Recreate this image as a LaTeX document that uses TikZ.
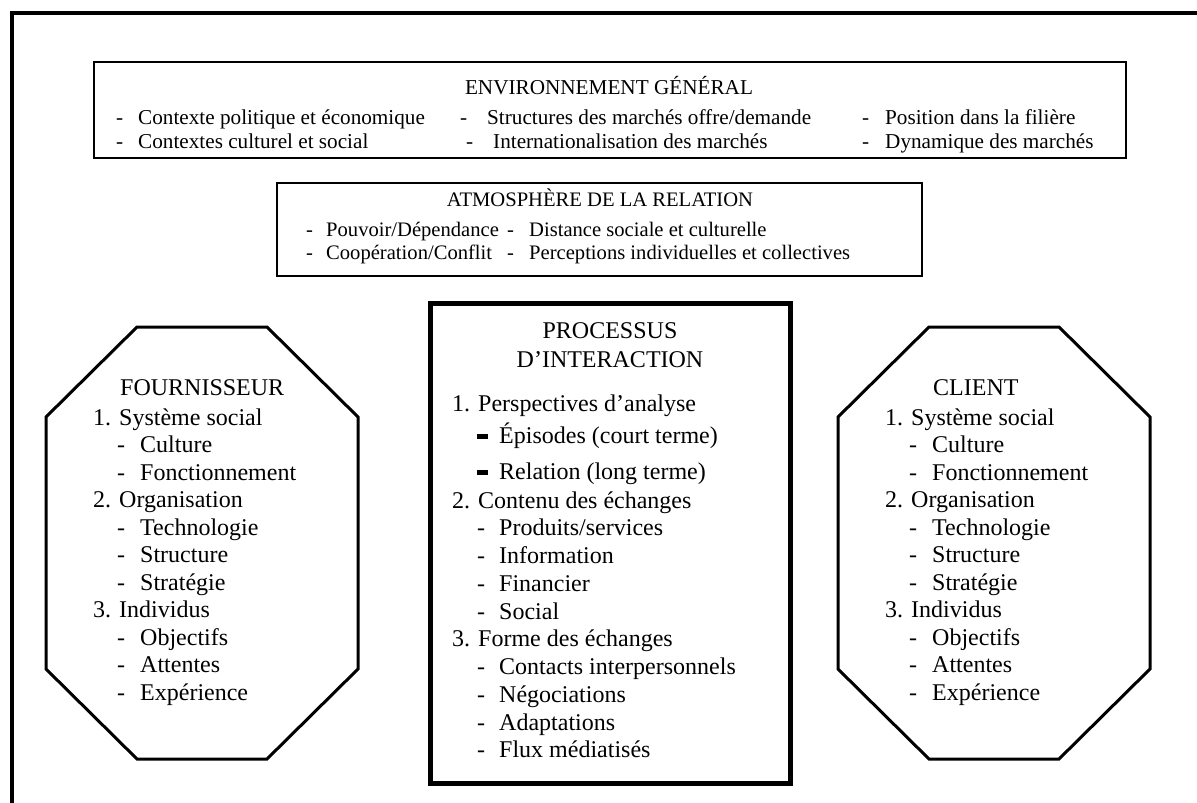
\documentclass[tikz,border=0pt]{standalone}
\usepackage{fontspec}
\setmainfont{Liberation Serif}
\begin{document}
\begin{tikzpicture}[x=1pt,y=-1pt,
  etxt/.style={anchor=base west,inner sep=0pt,font=\fontsize{21.2}{24}\selectfont},
  atxt/.style={anchor=base west,inner sep=0pt,font=\fontsize{20.6}{24}\selectfont},
  txt/.style={anchor=base west,inner sep=0pt,font=\fontsize{24}{28}\selectfont},
  ctxt/.style={anchor=base,inner sep=0pt,font=\fontsize{24}{28}\selectfont},
  thinbox/.style={draw,line width=2pt},
  octo/.style={draw,line width=3pt,line join=miter},
  bigbox/.style={draw,line width=5pt},
  bdash/.style={anchor=base west,inner sep=0pt}]
\useasboundingbox (0,0) rectangle (1197,803);
% outer frame
\draw[line width=4pt,line join=miter] (12,803) -- (12,13) -- (1197,13);
% environnement
\draw[thinbox] (94,62) rectangle (1126,158);
\node[etxt,anchor=base] (envt) at (609,94) {ENVIRONNEMENT GÉNÉRAL};
\node[etxt] (e1d) at (116,124) {-}; \node[etxt] (e1) at (138,124) {Contexte politique et économique};
\node[etxt] (e2d) at (116,148) {-}; \node[etxt] (e2) at (138,148) {Contextes culturel et social};
\node[etxt] (e3d) at (460,124) {-}; \node[etxt] (e3) at (487,124) {Structures des marchés offre/demande};
\node[etxt] (e4d) at (466,148) {-}; \node[etxt] (e4) at (493,148) {Internationalisation des marchés};
\node[etxt] (e5d) at (862,124) {-}; \node[etxt] (e5) at (885,124) {Position dans la filière};
\node[etxt] (e6d) at (862,148) {-}; \node[etxt] (e6) at (885,148) {Dynamique des marchés};
% atmosphere
\draw[thinbox] (277,183) rectangle (922,276);
\node[atxt,anchor=base] (atmt) at (600,206) {ATMOSPHÈRE DE LA RELATION};
\node[atxt] (a1d) at (306,236) {-}; \node[atxt] (a1) at (326,236) {Pouvoir/Dépendance};
\node[atxt] (a2d) at (306,259) {-}; \node[atxt] (a2) at (326,259) {Coopération/Conflit};
\node[atxt] (a3d) at (507,236) {-}; \node[atxt] (a3) at (529,236) {Distance sociale et culturelle};
\node[atxt] (a4d) at (507,259) {-}; \node[atxt] (a4) at (529,259) {Perceptions individuelles et collectives};
% left octagon
\draw[octo] (137,327) -- (267,327) -- (358,417) -- (358,669) -- (267,759) -- (137,759) -- (46,669) -- (46,417) -- cycle;
% right octagon
\draw[octo] (929,327) -- (1059,327) -- (1150,417) -- (1150,669) -- (1059,759) -- (929,759) -- (838,669) -- (838,417) -- cycle;
% central box
\draw[bigbox] (430,303) rectangle (790,783);
% octagon texts
\node[txt] (ft) at (120,395) {FOURNISSEUR};
\node[txt] (ct) at (933,395) {CLIENT};
\foreach \ox/\p in {0/f,792/c}{
  \node[txt] (\p1) at (93+\ox,425) {1. Système social};
  \node[txt] at (117+\ox,452.5) {-}; \node[txt] (\p11) at (140+\ox,452.5) {Culture};
  \node[txt] at (117+\ox,480) {-}; \node[txt] (\p12) at (140+\ox,480) {Fonctionnement};
  \node[txt] (\p2) at (93+\ox,507.5) {2. Organisation};
  \node[txt] at (117+\ox,535) {-}; \node[txt] (\p21) at (140+\ox,535) {Technologie};
  \node[txt] at (117+\ox,562.5) {-}; \node[txt] (\p22) at (140+\ox,562.5) {Structure};
  \node[txt] at (117+\ox,590) {-}; \node[txt] (\p23) at (140+\ox,590) {Stratégie};
  \node[txt] (\p3) at (93+\ox,617.5) {3. Individus};
  \node[txt] at (117+\ox,645) {-}; \node[txt] (\p31) at (140+\ox,645) {Objectifs};
  \node[txt] at (117+\ox,672.5) {-}; \node[txt] (\p32) at (140+\ox,672.5) {Attentes};
  \node[txt] at (117+\ox,700) {-}; \node[txt] (\p33) at (140+\ox,700) {Expérience};
}
% processus
\node[ctxt] (pt1) at (610,338) {PROCESSUS};
\node[ctxt] (pt2) at (610,367) {D’INTERACTION};
\node[txt] (p1) at (452,411) {1. Perspectives d’analyse};
\node[bdash] (p11d) at (477,443) {\rule[4.5pt]{11pt}{4.5pt}}; \node[txt] (p11) at (499,443) {Épisodes (court terme)};
\node[bdash] (p12d) at (477,479) {\rule[4.5pt]{11pt}{4.5pt}}; \node[txt] (p12) at (499,479) {Relation (long terme)};
\node[txt] (p2) at (452,508) {2. Contenu des échanges};
\node[txt] at (477,535.75) {-}; \node[txt] (p21) at (499,535.75) {Produits/services};
\node[txt] at (477,563.5) {-}; \node[txt] (p22) at (499,563.5) {Information};
\node[txt] at (477,591.25) {-}; \node[txt] (p23) at (499,591.25) {Financier};
\node[txt] at (477,619) {-}; \node[txt] (p24) at (499,619) {Social};
\node[txt] (p3) at (452,646.75) {3. Forme des échanges};
\node[txt] at (477,674.5) {-}; \node[txt] (p31) at (499,674.5) {Contacts interpersonnels};
\node[txt] at (477,702.25) {-}; \node[txt] (p32) at (499,702.25) {Négociations};
\node[txt] at (477,730) {-}; \node[txt] (p33) at (499,730) {Adaptations};
\node[txt] at (477,757.75) {-}; \node[txt] (p34) at (499,757.75) {Flux médiatisés};
\end{tikzpicture}
\end{document}
